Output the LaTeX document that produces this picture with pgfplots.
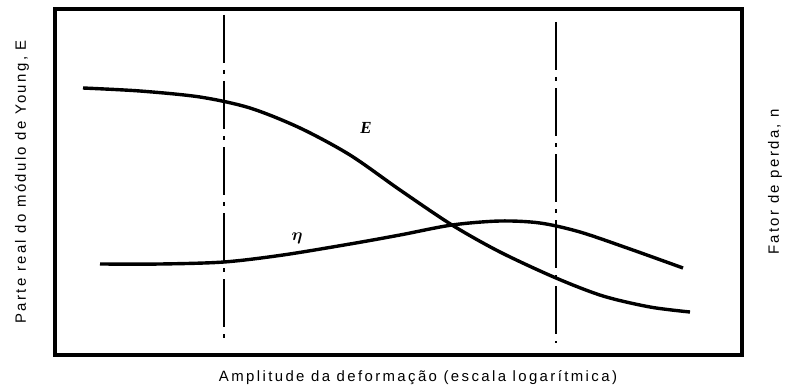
\documentclass[border=0pt]{standalone}
\usepackage{amsmath}
\usepackage{fontspec}
\setmainfont{Liberation Sans}
\newfontfamily\lbl[LetterSpace=16]{Liberation Sans}
\newfontfamily\serifit{Liberation Serif}
\usepackage{pgfplots}
\pgfplotsset{compat=1.18}
\begin{document}
\begin{tikzpicture}
\useasboundingbox (0,0) rectangle (786bp,391bp);
\begin{axis}[
  at={(55bp,36bp)}, anchor=south west,
  scale only axis, width=687bp, height=346bp,
  xmin=55, xmax=742, ymin=9, ymax=355, y dir=reverse,
  xtick=\empty, ytick=\empty,
  axis line style={line width=3.2bp},
  clip=false,
]
% E curve
\addplot[black, line width=3.4bp, smooth] coordinates {
 (83,88) (140,91) (200,97) (250,108) (300,128) (350,155) (400,190) (452,225) (500,252) (556,278) (603,296) (650,307) (690,312)};
% eta curve
\addplot[black, line width=3.4bp, smooth] coordinates {
 (100,264) (160,264) (224,262) (283,255) (350,244) (400,235) (452,225) (500,221) (540,223) (580,232) (630,249) (683,268)};
% vertical dash-dot lines
\addplot[black, line width=2.6bp, dash pattern=on 48bp off 7bp on 4bp off 7bp] coordinates {(224,15) (224,343)};
\addplot[black, line width=2.6bp, dash pattern=on 48bp off 7bp on 4bp off 7bp] coordinates {(556,22) (556,343)};
\node[font=\serifit\bfseries\itshape\fontsize{17}{19}\selectfont] at (axis cs:366,128) {E};
\node[font=\fontsize{16}{18}\selectfont] at (axis cs:297,238) {$\boldsymbol{\eta}$};
\node[font=\lbl\fontsize{15}{17}\selectfont] at (axis cs:418,378) {Amplitude da deformação (escala logarítmica)};
\node[font=\lbl\fontsize{15}{17}\selectfont, rotate=90] at (axis cs:22,182) {Parte real do módulo de Young, E};
\node[font=\lbl\fontsize{15}{17}\selectfont, rotate=90] at (axis cs:775,182) {Fator de perda, n};
\end{axis}
\end{tikzpicture}
\end{document}
